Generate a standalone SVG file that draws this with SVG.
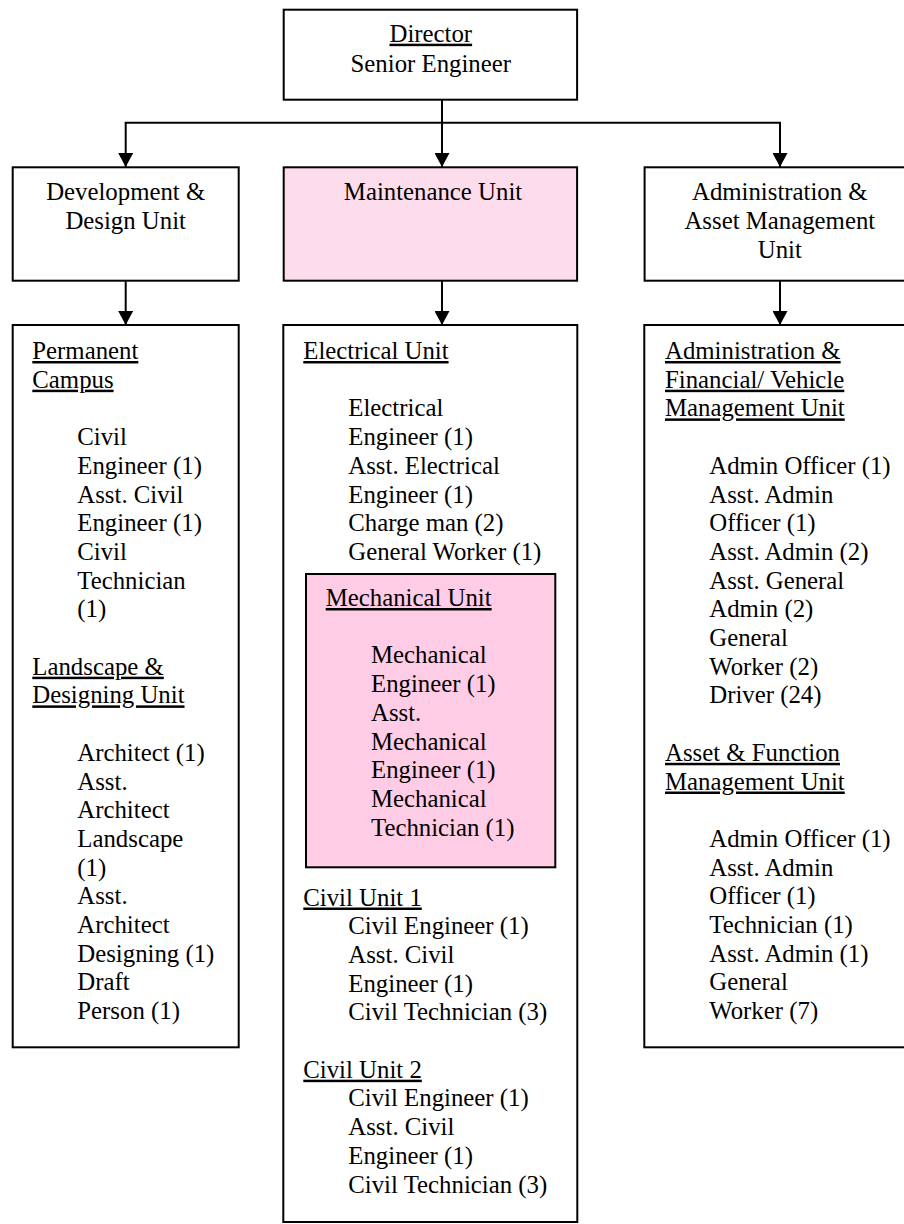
<svg xmlns="http://www.w3.org/2000/svg" width="904" height="1224" viewBox="0 0 904 1224">
<style>
  .box { fill: #ffffff; stroke: #000000; stroke-width: 2; }
  .pink { fill: #fddcec; stroke: #000000; stroke-width: 2; }
  .pink2 { fill: #ffcce5; stroke: #000000; stroke-width: 2; }
  text { font-family: "Liberation Serif", "Times New Roman", serif; font-size: 24.8px; fill: #000000; }
  .c { text-anchor: middle; }
  .u { text-decoration: underline; }
  .conn { fill: none; stroke: #000000; stroke-width: 2; }
</style>
<defs>
  <marker id="arr" markerUnits="userSpaceOnUse" markerWidth="14" markerHeight="15" refX="14" refY="7.5" orient="auto">
    <path d="M0,0 L14,7.5 L0,15 z" fill="#000000"/>
  </marker>
</defs>

<g id="connectors">
  <line class="conn" x1="442" y1="100" x2="442" y2="122.7"/>
  <line class="conn" x1="124.7" y1="122.7" x2="781" y2="122.7"/>
  <line class="conn" x1="125.7" y1="122.7" x2="125.7" y2="167" marker-end="url(#arr)"/>
  <line class="conn" x1="442" y1="122.7" x2="442" y2="167" marker-end="url(#arr)"/>
  <line class="conn" x1="780" y1="122.7" x2="780" y2="167" marker-end="url(#arr)"/>
  <line class="conn" x1="125.7" y1="281" x2="125.7" y2="325" marker-end="url(#arr)"/>
  <line class="conn" x1="442" y1="281" x2="442" y2="325" marker-end="url(#arr)"/>
  <line class="conn" x1="780" y1="281" x2="780" y2="325" marker-end="url(#arr)"/>
</g>

<g id="director">
  <rect class="box" x="283.7" y="9.7" width="293.4" height="90"/>
  <text class="c u" x="430.8" y="41.7">Director</text>
  <text class="c" x="430.8" y="71.7">Senior Engineer</text>
</g>

<g id="dev-unit">
  <rect class="box" x="12.7" y="167.3" width="226" height="113.4"/>
  <text class="c" x="125.7" y="200">Development &amp;</text>
  <text class="c" x="125.7" y="229.3">Design Unit</text>
</g>

<g id="maintenance-unit">
  <rect class="pink" x="283.7" y="167.3" width="293.4" height="113.4"/>
  <text class="c" x="433" y="200">Maintenance Unit</text>
</g>

<g id="admin-unit">
  <rect class="box" x="644.6" y="167.3" width="272" height="113.4"/>
  <text class="c" x="779.8" y="200">Administration &amp;</text>
  <text class="c" x="779.8" y="229.3">Asset Management</text>
  <text class="c" x="779.8" y="258.3">Unit</text>
</g>

<g id="dev-detail">
  <rect class="box" x="12.7" y="325" width="226" height="722.3"/>
  <text class="u" x="32.3" y="359">Permanent</text>
  <text class="u" x="32.3" y="387.7">Campus</text>
  <text x="77.3" y="445.1">Civil</text>
  <text x="77.3" y="473.8">Engineer (1)</text>
  <text x="77.3" y="502.5">Asst. Civil</text>
  <text x="77.3" y="531.2">Engineer (1)</text>
  <text x="77.3" y="559.9">Civil</text>
  <text x="77.3" y="588.6">Technician</text>
  <text x="77.3" y="617.3">(1)</text>
  <text class="u" x="32.3" y="674.7">Landscape &amp;</text>
  <text class="u" x="32.3" y="703.4">Designing Unit</text>
  <text x="77.3" y="760.8">Architect (1)</text>
  <text x="77.3" y="789.5">Asst.</text>
  <text x="77.3" y="818.2">Architect</text>
  <text x="77.3" y="846.9">Landscape</text>
  <text x="77.3" y="875.6">(1)</text>
  <text x="77.3" y="904.3">Asst.</text>
  <text x="77.3" y="933">Architect</text>
  <text x="77.3" y="961.7">Designing (1)</text>
  <text x="77.3" y="990.4">Draft</text>
  <text x="77.3" y="1019.1">Person (1)</text>
</g>

<g id="maintenance-detail">
  <rect class="box" x="283.3" y="325" width="294" height="897"/>
  <text class="u" x="303.3" y="359">Electrical Unit</text>
  <text x="348.3" y="416.4">Electrical</text>
  <text x="348.3" y="445.1">Engineer (1)</text>
  <text x="348.3" y="473.8">Asst. Electrical</text>
  <text x="348.3" y="502.5">Engineer (1)</text>
  <text x="348.3" y="531.2">Charge man (2)</text>
  <text x="348.3" y="559.9">General Worker (1)</text>
  <g id="mechanical-unit">
    <rect class="pink2" x="306" y="574" width="249.3" height="293.3"/>
    <text class="u" x="325.7" y="606">Mechanical Unit</text>
    <text x="371" y="663.4">Mechanical</text>
    <text x="371" y="692.1">Engineer (1)</text>
    <text x="371" y="720.8">Asst.</text>
    <text x="371" y="749.5">Mechanical</text>
    <text x="371" y="778.2">Engineer (1)</text>
    <text x="371" y="806.9">Mechanical</text>
    <text x="371" y="835.6">Technician (1)</text>
  </g>
  <text class="u" x="303.3" y="905.5">Civil Unit 1</text>
  <text x="348.3" y="934.2">Civil Engineer (1)</text>
  <text x="348.3" y="962.9">Asst. Civil</text>
  <text x="348.3" y="991.6">Engineer (1)</text>
  <text x="348.3" y="1020.3">Civil Technician (3)</text>
  <text class="u" x="303.3" y="1077.7">Civil Unit 2</text>
  <text x="348.3" y="1106.4">Civil Engineer (1)</text>
  <text x="348.3" y="1135.1">Asst. Civil</text>
  <text x="348.3" y="1163.8">Engineer (1)</text>
  <text x="348.3" y="1192.5">Civil Technician (3)</text>
</g>

<g id="admin-detail">
  <rect class="box" x="644.3" y="325" width="272" height="722.3"/>
  <text class="u" x="665" y="359">Administration &amp;</text>
  <text class="u" x="665" y="387.7">Financial/ Vehicle</text>
  <text class="u" x="665" y="416.4">Management Unit</text>
  <text x="709.3" y="473.8">Admin Officer (1)</text>
  <text x="709.3" y="502.5">Asst. Admin</text>
  <text x="709.3" y="531.2">Officer (1)</text>
  <text x="709.3" y="559.9">Asst. Admin (2)</text>
  <text x="709.3" y="588.6">Asst. General</text>
  <text x="709.3" y="617.3">Admin (2)</text>
  <text x="709.3" y="646">General</text>
  <text x="709.3" y="674.7">Worker (2)</text>
  <text x="709.3" y="703.4">Driver (24)</text>
  <text class="u" x="665" y="760.8">Asset &amp; Function</text>
  <text class="u" x="665" y="789.5">Management Unit</text>
  <text x="709.3" y="846.9">Admin Officer (1)</text>
  <text x="709.3" y="875.6">Asst. Admin</text>
  <text x="709.3" y="904.3">Officer (1)</text>
  <text x="709.3" y="933">Technician (1)</text>
  <text x="709.3" y="961.7">Asst. Admin (1)</text>
  <text x="709.3" y="990.4">General</text>
  <text x="709.3" y="1019.1">Worker (7)</text>
</g>
</svg>
